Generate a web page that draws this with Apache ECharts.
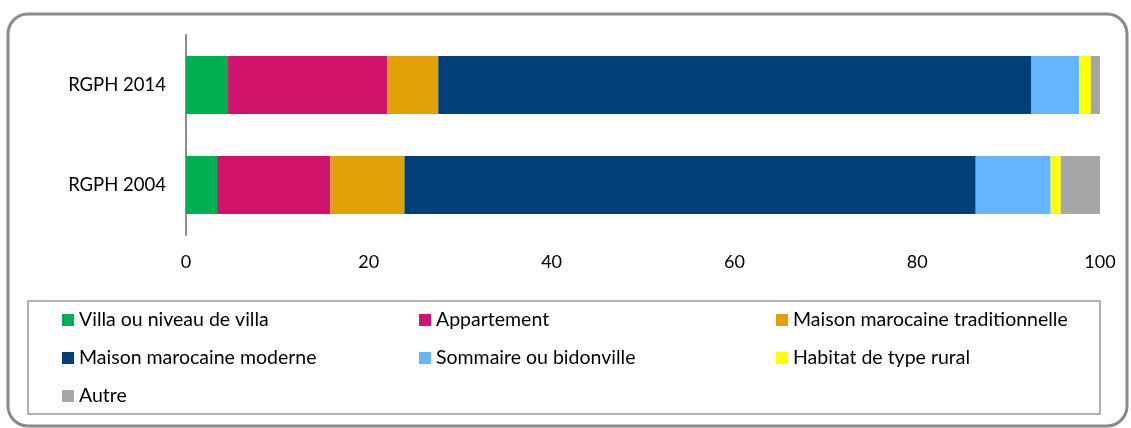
<!DOCTYPE html>
<html>
<head>
<meta charset="utf-8">
<script src="https://cdn.jsdelivr.net/npm/echarts@6/dist/echarts.min.js"></script>
<style>
  html, body { margin: 0; padding: 0; background: #fff; }
  #chart { width: 1131px; height: 428px; }
</style>
</head>
<body>
<div id="chart"></div>
<script>
// données (%)
const categories = ['RGPH 2014', 'RGPH 2004'];
const villa = [4.6, 3.4];
const appartement = [17.4, 12.4];
const traditionnelle = [5.6, 8.1];
const moderne = [64.9, 62.5];
const sommaire = [5.2, 8.2];
const rural = [1.3, 1.1];
const autre = [1.0, 4.3];
const xTicks = [0, 20, 40, 60, 80, 100];

const FONT = 'Lato';

let seriesDefs = [
  { name: 'Villa ou niveau de villa', data: villa, color: '#00B050' },
  { name: 'Appartement', data: appartement, color: '#D0136B' },
  { name: 'Maison marocaine traditionnelle', data: traditionnelle, color: '#E2A109' },
  { name: 'Maison marocaine moderne', data: moderne, color: '#003F77' },
  { name: 'Sommaire ou bidonville', data: sommaire, color: '#63B6FF' },
  { name: 'Habitat de type rural', data: rural, color: '#FFFF00' },
  { name: 'Autre', data: autre, color: '#A6A6A6' }
]

function legendCol (left, names) {
  return {
    orient: 'vertical',
    left: left,
    top: 310,
    padding: 0,
    itemWidth: 12,
    itemHeight: 12,
    itemGap: 18,
    icon: 'rect',
    data: names,
    textStyle: { fontFamily: FONT, fontSize: 19.5, color: '#000', lineHeight: 20 }
  }
}

let chart = echarts.init(document.getElementById('chart'))
chart.setOption({
  animation: false,
  grid: { left: 186, right: 31, top: 35, bottom: 193 },
  xAxis: {
    type: 'value',
    min: 0,
    max: 100,
    interval: 20,
    axisLine: { show: false },
    axisTick: { show: false },
    splitLine: { show: false },
    axisLabel: {
      margin: 18,
      fontFamily: FONT,
      fontSize: 18,
      color: '#000',
      formatter: v => xTicks.includes(v) ? String(v) : ''
    }
  },
  yAxis: {
    type: 'category',
    data: categories,
    inverse: true,
    axisLine: { show: true, lineStyle: { color: '#8c8c8c', width: 2 } },
    axisTick: { show: false },
    axisLabel: { margin: 20, fontFamily: FONT, fontSize: 18.5, color: '#000' }
  },
  legend: [
    legendCol(62, ['Villa ou niveau de villa', 'Maison marocaine moderne', 'Autre']),
    legendCol(419, ['Appartement', 'Sommaire ou bidonville']),
    legendCol(776, ['Maison marocaine traditionnelle', 'Habitat de type rural'])
  ],
  series: seriesDefs.map(s => ({
    name: s.name,
    type: 'bar',
    stack: 'total',
    barWidth: 58,
    data: s.data,
    itemStyle: { color: s.color }
  })),
  graphic: [
    {
      type: 'rect',
      shape: { x: 8, y: 14, width: 1119, height: 412, r: 20 },
      style: { fill: null, stroke: '#8a8a8a', lineWidth: 3 },
      silent: true
    },
    {
      type: 'rect',
      shape: { x: 28, y: 301, width: 1072, height: 113 },
      style: { fill: null, stroke: '#9a9a9a', lineWidth: 1.5 },
      silent: true
    }
  ]
})
</script>
</body>
</html>
